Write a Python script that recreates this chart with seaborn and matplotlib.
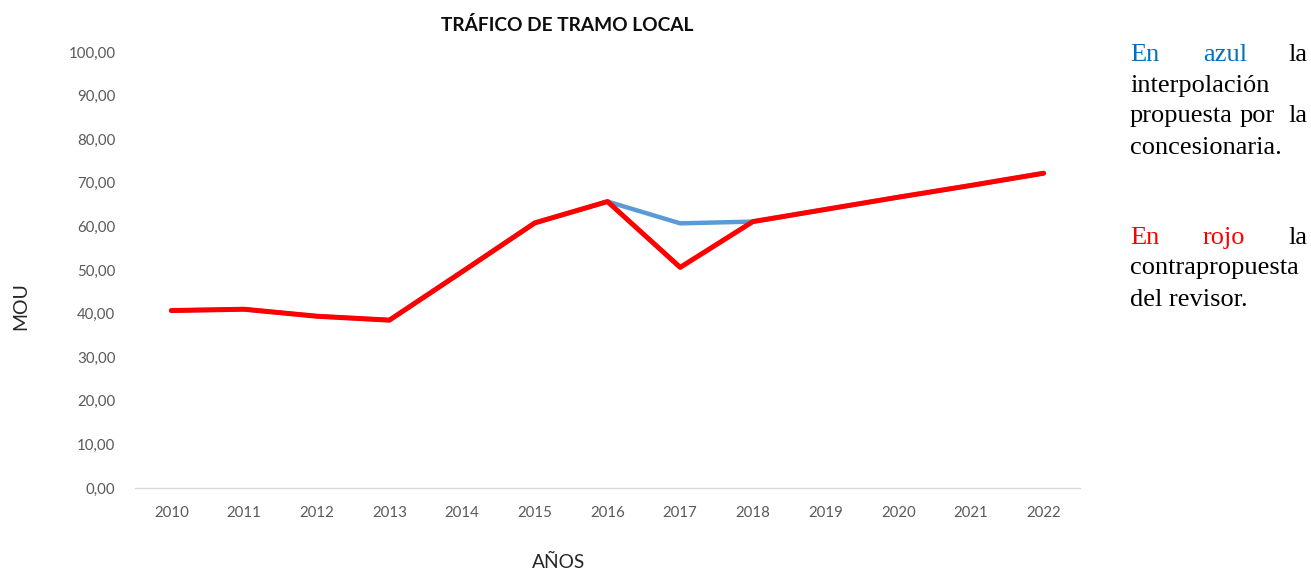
import matplotlib
matplotlib.use('Agg')
import matplotlib.pyplot as plt
from matplotlib.ticker import FuncFormatter
import seaborn as sns

years = [2010, 2011, 2012, 2013, 2014, 2015, 2016, 2017, 2018, 2019, 2020, 2021, 2022]
# interpolacion de la concesionaria (azul) y contrapropuesta del revisor (rojo)
concesionaria = [40.7, 41.0, 39.4, 38.5, 49.6, 60.8, 65.7, 60.7, 61.1, 63.9, 66.7, 69.4, 72.2]
revisor = [40.7, 41.0, 39.4, 38.5, 49.6, 60.8, 65.7, 50.6, 61.1, 63.9, 66.7, 69.4, 72.2]
y_ticks = [0, 10, 20, 30, 40, 50, 60, 70, 80, 90, 100]

sns.set_style('white')
plt.rcParams['font.family'] = ['Lato', 'DejaVu Sans']

W, H = 1311, 571
fig = plt.figure(figsize=(W / 100, H / 100), dpi=100)
ax = fig.add_axes([135 / W, 1 - 488 / H, (1080 - 135) / W, (488 - 52) / H])

sns.lineplot(x=years, y=concesionaria, color='#5B9BD5', linewidth=3.2, ax=ax)
sns.lineplot(x=years, y=revisor, color='#FF0000', linewidth=3.6, ax=ax)

ax.set_xlim(2009.5, 2022.5)
ax.set_ylim(0, 100)
ax.set_xticks(years)
ax.set_yticks(y_ticks)
ax.yaxis.set_major_formatter(FuncFormatter(lambda v, p: f'{v:.2f}'.replace('.', ',')))
ax.tick_params(axis='x', length=0, pad=13, labelsize=10.8, labelcolor='#595959')
ax.tick_params(axis='y', length=0, pad=14, labelsize=10.8, labelcolor='#595959')
ax.set_xlabel('')
ax.set_ylabel('')

for s in ['left', 'right', 'top']:
    ax.spines[s].set_visible(False)
ax.spines['bottom'].set_color('#D9D9D9')
ax.spines['bottom'].set_linewidth(1)

fig.text(567 / W, 1 - 25 / H, 'TRÁFICO DE TRAMO LOCAL', ha='center', va='center',
         fontsize=13.8, fontweight='bold', color='#0D0D0D')
fig.text(21 / W, 1 - 306 / H, 'MOU', rotation=90, ha='center', va='center',
         fontsize=14, color='#262626')
fig.text(559 / W, 1 - 562 / H, 'AÑOS', ha='center', va='center',
         fontsize=13.8, color='#262626')

# texto de la derecha (justificado a mano)
serif = dict(family=['Liberation Serif', 'DejaVu Serif'], fontsize=19, va='center')
xl, xr = 1130 / W, 1307 / W
def fy(y):
    return 1 - y / H

fig.text(xl, fy(55), 'En', color='#0070C0', ha='left', **serif)
fig.text(1203 / W, fy(55), 'azul', color='#0070C0', ha='left', **serif)
fig.text(xr, fy(55), 'la', color='black', ha='right', **serif)
fig.text(xl, fy(86), 'interpolación', color='black', ha='left', **serif)
fig.text(xl, fy(116), 'propuesta', color='black', ha='left', **serif)
fig.text(1240 / W, fy(116), 'por', color='black', ha='left', **serif)
fig.text(xr, fy(116), 'la', color='black', ha='right', **serif)
fig.text(xl, fy(148), 'concesionaria.', color='black', ha='left', **serif)

fig.text(xl, fy(238), 'En', color='#FF0000', ha='left', **serif)
fig.text(1203 / W, fy(238), 'rojo', color='#FF0000', ha='left', **serif)
fig.text(xr, fy(238), 'la', color='black', ha='right', **serif)
fig.text(xl, fy(268), 'contrapropuesta', color='black', ha='left', **serif)
fig.text(xl, fy(300), 'del revisor.', color='black', ha='left', **serif)

fig.savefig('out.png', dpi=100)
